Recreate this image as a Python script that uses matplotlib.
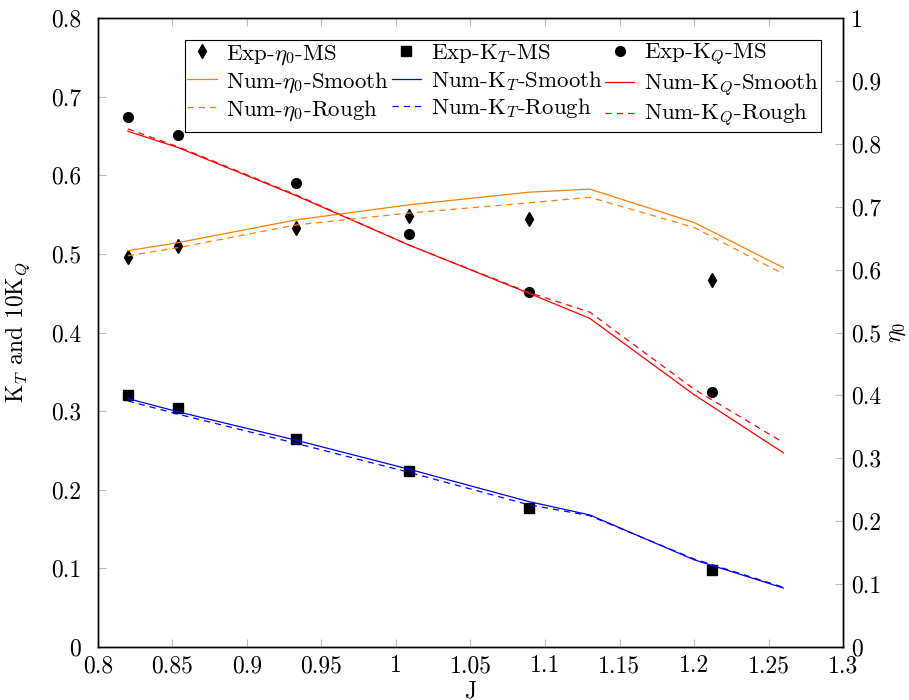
import matplotlib
matplotlib.use("Agg")
import matplotlib.pyplot as plt
from matplotlib.ticker import FuncFormatter

plt.rcParams['font.family'] = 'cmr10'
plt.rcParams['mathtext.fontset'] = 'cm'
plt.rcParams['axes.formatter.use_mathtext'] = True
plt.rcParams['font.size'] = 17

# experimental data
j_exp = [0.82, 0.854, 0.933, 1.009, 1.089, 1.212]
eta_exp = [0.620, 0.637, 0.666, 0.685, 0.680, 0.583]
kt_exp = [0.321, 0.304, 0.265, 0.224, 0.177, 0.098]
kq_exp = [0.674, 0.651, 0.590, 0.525, 0.452, 0.324]

# numerical data
j_num = [0.82, 0.854, 0.933, 1.009, 1.089, 1.13, 1.2, 1.26]
eta_smooth = [0.630, 0.643, 0.679, 0.703, 0.723, 0.728, 0.675, 0.603]
eta_rough = [0.622, 0.635, 0.671, 0.690, 0.706, 0.715, 0.667, 0.593]
kt_smooth = [0.316, 0.299, 0.263, 0.226, 0.185, 0.168, 0.111, 0.075]
kt_rough = [0.313, 0.296, 0.259, 0.222, 0.181, 0.167, 0.112, 0.076]
kq_smooth = [0.656, 0.635, 0.574, 0.511, 0.450, 0.418, 0.321, 0.247]
kq_rough = [0.659, 0.636, 0.575, 0.511, 0.451, 0.426, 0.328, 0.260]

fig = plt.figure(figsize=(9.09, 7.0), dpi=100)
ax = fig.add_axes([0.1078, 0.0757, 0.8196, 0.8986])
ax2 = ax.twinx()

orange = (1, 0.5, 0)
lw = 0.9
dash = (5, 4)

# left axis: KT and 10KQ
h_kt, = ax.plot(j_exp, kt_exp, 's', color='black', ms=7, label=r'Exp-$\mathrm{K}_T$-MS')
h_kq, = ax.plot(j_exp, kq_exp, 'o', color='black', ms=7, label=r'Exp-$\mathrm{K}_Q$-MS')
h_kts, = ax.plot(j_num, kt_smooth, '-', color='blue', lw=lw, label=r'Num-$\mathrm{K}_T$-Smooth')
h_kqs, = ax.plot(j_num, kq_smooth, '-', color='red', lw=lw, label=r'Num-$\mathrm{K}_Q$-Smooth')
h_ktr, = ax.plot(j_num, kt_rough, '--', color='blue', lw=lw, dashes=dash, label=r'Num-$\mathrm{K}_T$-Rough')
h_kqr, = ax.plot(j_num, kq_rough, '--', color='red', lw=lw, dashes=dash, label=r'Num-$\mathrm{K}_Q$-Rough')

# right axis: eta0
h_eta, = ax2.plot(j_exp, eta_exp, 'd', color='black', ms=7.5, label=r'Exp-$\eta_0$-MS')
h_etas, = ax2.plot(j_num, eta_smooth, '-', color=orange, lw=lw, label=r'Num-$\eta_0$-Smooth')
h_etar, = ax2.plot(j_num, eta_rough, '--', color=orange, lw=lw, dashes=dash, label=r'Num-$\eta_0$-Rough')

ax.set_xlim(0.8, 1.3)
ax.set_ylim(0, 0.8)
ax2.set_ylim(0, 1)

ax.set_xticks([0.8, 0.85, 0.9, 0.95, 1.0, 1.05, 1.1, 1.15, 1.2, 1.25, 1.3])
ax.set_yticks([0, 0.1, 0.2, 0.3, 0.4, 0.5, 0.6, 0.7, 0.8])
ax2.set_yticks([0, 0.1, 0.2, 0.3, 0.4, 0.5, 0.6, 0.7, 0.8, 0.9, 1.0])
fmt = FuncFormatter(lambda v, p: '%g' % round(v, 3))
ax.xaxis.set_major_formatter(fmt)
ax.yaxis.set_major_formatter(fmt)
ax2.yaxis.set_major_formatter(fmt)

ax.tick_params(axis='x', direction='in', top=True, length=6, color='#bbbbbb', width=0.8, pad=6)
ax.tick_params(axis='y', direction='in', length=6, color='#bbbbbb', width=0.8, pad=12)
ax2.tick_params(axis='y', direction='in', length=6, color='#bbbbbb', width=0.8, pad=6)
for a in (ax, ax2):
    for s in a.spines.values():
        s.set_linewidth(1.0)

ax.set_xlabel('J', labelpad=2)
ax.set_ylabel(r'$\mathrm{K}_T$ and 10$\mathrm{K}_Q$', labelpad=14)
ax2.set_ylabel(r'$\eta_0$', labelpad=3)

# legend filled column by column, so order handles to read row by row
handles = [h_eta, h_etas, h_etar, h_kt, h_kts, h_ktr, h_kq, h_kqs, h_kqr]
leg = ax2.legend(handles=handles, labels=[h.get_label() for h in handles], ncol=3,
                 loc='upper right', bbox_to_anchor=(0.9705, 0.965), borderaxespad=0,
                 fancybox=False, framealpha=1, edgecolor='black', handlelength=1.3,
                 columnspacing=0.1, handletextpad=0.4, labelspacing=0.15, borderpad=0.1,
                 fontsize=16.5)
leg.get_frame().set_linewidth(0.8)

fig.savefig('out.png', dpi=100)
